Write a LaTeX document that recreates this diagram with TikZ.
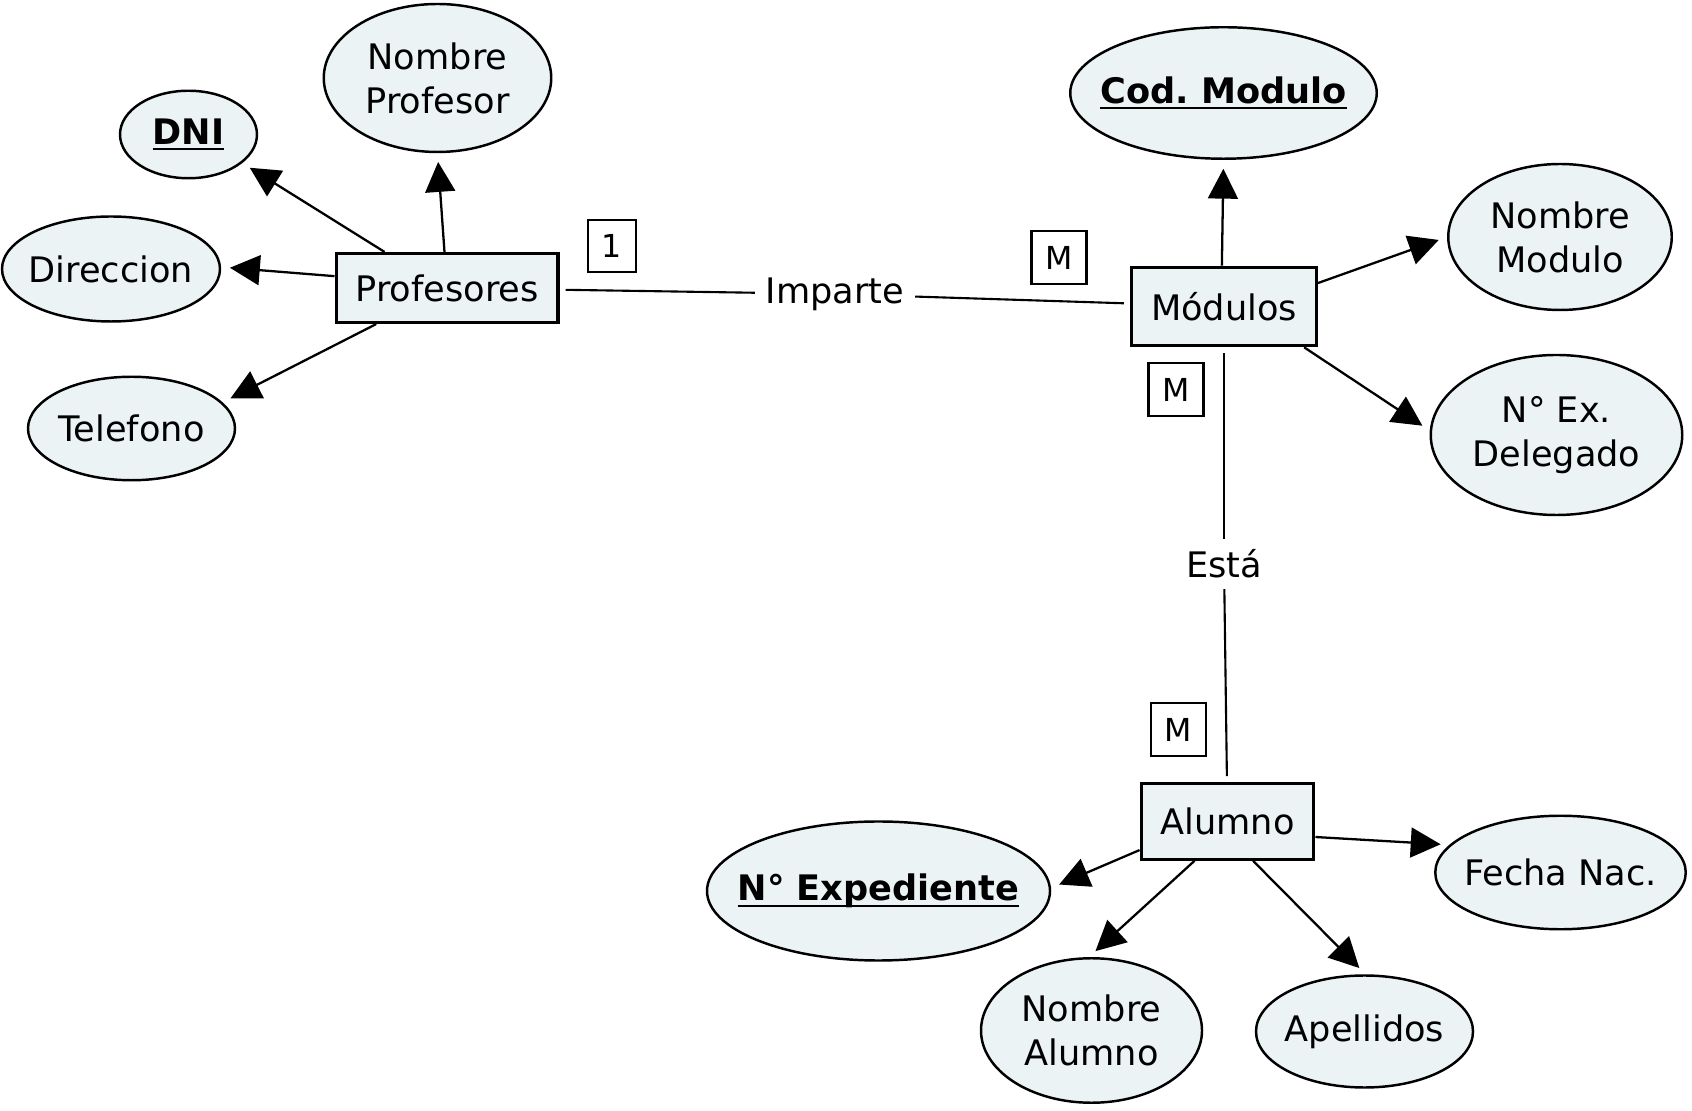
\documentclass[tikz,border=0pt]{standalone}
\usepackage{fontspec}
\setmainfont{DejaVu Sans}
\usetikzlibrary{arrows.meta,shapes.geometric}
\definecolor{celeste}{HTML}{EBF3F5}
\frenchspacing
\newcommand{\clave}[1]{\setbox0=\hbox{\bfseries #1}\rlap{\rule[-3.4pt]{\wd0}{1.2pt}}\box0}
\tikzset{
  entidad/.style={draw,fill=celeste,line width=1.8pt,inner xsep=11pt},
  atrib/.style={ellipse,draw,fill=celeste,line width=1.4pt,inner sep=0pt},
  card/.style={draw,line width=1.4pt,inner xsep=8pt,minimum height=1.05cm,font=\fontsize{18}{22}\selectfont},
  rel/.style={inner sep=6pt},
  enlace/.style={line width=1.2pt,shorten >=3.5pt},
  flecha/.style={-{Triangle[length=17pt,width=17pt]},line width=1.3pt,shorten >=5pt},
}

\begin{document}
\begin{tikzpicture}[font=\fontsize{20}{25}\selectfont]
  \useasboundingbox (0,0) rectangle (33.84,22.2);
  % entidades
  \node[entidad,minimum height=1.38cm] (prof) at (8.94,16.44) {Profesores};
  \node[entidad,minimum height=1.57cm] (mod) at (24.48,16.07) {Módulos};
  \node[entidad,minimum height=1.51cm] (alum) at (24.55,5.77) {Alumno};
  % atributos
  \node[atrib,minimum width=2.74cm,minimum height=1.75cm,label={center:\clave{DNI}}] (dni) at (3.77,19.51) {};
  \node[atrib,minimum width=4.55cm,minimum height=2.96cm,label={[align=center]center:Nombre\\Profesor}] (nomprof) at (8.75,20.64) {};
  \node[atrib,minimum width=4.36cm,minimum height=2.10cm,label={center:Direccion}] (dir) at (2.22,16.82) {};
  \node[atrib,minimum width=4.14cm,minimum height=2.07cm,label={center:Telefono}] (tel) at (2.63,13.63) {};
  \node[atrib,minimum width=6.13cm,minimum height=2.63cm,label={center:\clave{Cod. Modulo}}] (codmod) at (24.47,20.34) {};
  \node[atrib,minimum width=4.47cm,minimum height=2.92cm,label={[align=center]center:Nombre\\Modulo}] (nommod) at (31.20,17.46) {};
  \node[atrib,minimum width=5.03cm,minimum height=3.20cm,label={[align=center]center:N° Ex.\\Delegado}] (numdel) at (31.13,13.50) {};
  \node[atrib,minimum width=6.86cm,minimum height=2.78cm,label={center:\clave{N° Expediente}}] (numexp) at (17.57,4.38) {};
  \node[atrib,minimum width=5.01cm,minimum height=2.27cm,label={center:Fecha Nac.}] (fecha) at (31.21,4.75) {};
  \node[atrib,minimum width=4.42cm,minimum height=2.89cm,label={[align=center]center:Nombre\\Alumno}] (nomalum) at (21.83,1.59) {};
  \node[atrib,minimum width=4.34cm,minimum height=2.24cm,label={center:Apellidos}] (apell) at (27.29,1.57) {};
  % relaciones
  \node[rel] (imparte) at (16.70,16.32) {Imparte};
  \node[rel] (esta) at (24.48,10.92) {Está};
  % cardinalidades
  \node[card] (c1) at (12.24,17.28) {1};
  \node[card] (cm1) at (21.18,17.05) {M};
  \node[card] (cm2) at (23.52,14.41) {M};
  \node[card] (cm3) at (23.57,7.61) {M};
  % conexiones
  \draw[enlace] (imparte) -- (prof);
  \draw[enlace] (imparte) -- (mod);
  \draw[enlace] (esta) -- (mod);
  \draw[enlace] (esta) -- (alum);
  \draw[flecha] (prof.150) -- (dni.-28);
  \draw[flecha] (prof.94) -- (nomprof.-90);
  \draw[flecha] (prof.174) -- (dir.1);
  \draw[flecha] (prof.207) -- (tel.16);
  \draw[flecha] (mod.93) -- (codmod.-90);
  \draw[flecha] (mod.14) -- (nommod.180);
  \draw[flecha] (mod.-27) -- (numdel.178);
  \draw[flecha] (alum.198) -- (numexp.1);
  \draw[flecha] (alum.230) -- (nomalum.92);
  \draw[flecha] (alum.303.5) -- (apell.89);
  \draw[flecha] (alum.350) -- (fecha.166);
\end{tikzpicture}
\end{document}
